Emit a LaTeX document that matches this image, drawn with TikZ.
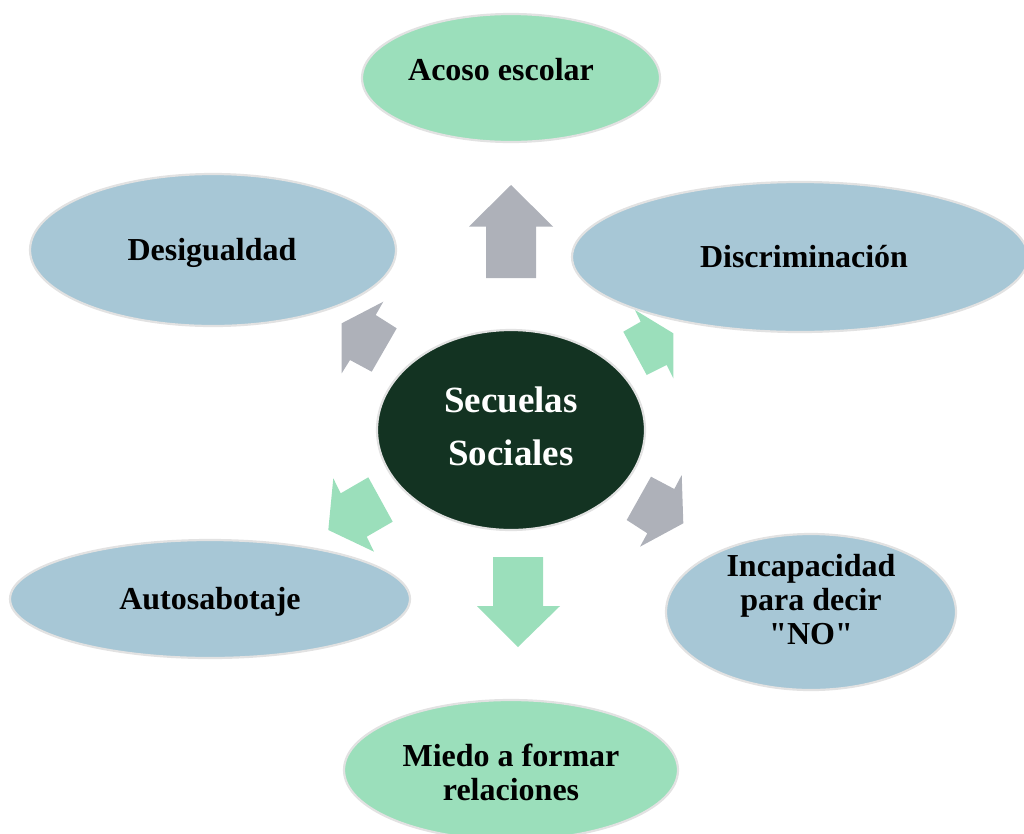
\documentclass[tikz,border=0pt]{standalone}
\usepackage{fontspec}
\setmainfont{Liberation Serif}[Ligatures=TeXReset]
\usetikzlibrary{shapes.geometric}
\definecolor{leaf}{HTML}{9BDFBB}
\definecolor{sky}{HTML}{A7C7D6}
\definecolor{stone}{HTML}{AEB1B9}
\definecolor{forest}{HTML}{133322}
\definecolor{rim}{HTML}{E2E2E2}
\tikzset{
  blob/.style={ellipse, draw=rim, line width=2.2pt, inner sep=0pt},
  lbl/.style={font=\fontsize{32}{34}\selectfont\bfseries, align=center, text=black, inner sep=0pt},
  biglbl/.style={font=\fontsize{37}{53}\selectfont\bfseries, align=center, text=white, inner sep=0pt},
  grayarrow/.style={fill=stone, draw=none},
  greenarrow/.style={fill=leaf, draw=none}
}
\begin{document}
\begin{tikzpicture}[x=1pt,y=-1pt]
\useasboundingbox (0,0) rectangle (1024,833);
% block arrows
\fill[grayarrow] (511,185) -- (553,226.5) -- (536,226.5) -- (536,278) -- (486,278) -- (486,226.5) -- (469,226.5) -- cycle;
\fill[greenarrow] (493,557) -- (543,557) -- (543,606) -- (560,606) -- (518,647) -- (477,606) -- (493,606) -- cycle;
\fill[grayarrow] (383.3,301.7) -- (375.7,315) -- (396.7,328.3) -- (371.7,371.7) -- (350,360) -- (341.7,373.3) -- (341.7,323.3) -- cycle;
\fill[greenarrow] (635,310) -- (640.7,321.7) -- (623.3,331.7) -- (646.7,375) -- (666.7,365) -- (673.3,378.3) -- (673.3,333.3) -- cycle;
\fill[greenarrow] (333.3,478.3) -- (340.7,493.3) -- (368.3,477.3) -- (392.7,521.7) -- (366.7,536.7) -- (374,551.7) -- (328.3,530) -- cycle;
\fill[grayarrow] (651,476.7) -- (674.3,489) -- (681.7,475) -- (683.3,523.3) -- (640,546.7) -- (647.3,533.3) -- (626.7,520) -- cycle;
% ellipses
\node[blob, fill=leaf, minimum width=298pt, minimum height=128pt] (acoso) at (511,78) {};
\node[blob, fill=sky, minimum width=366pt, minimum height=152pt] (desig) at (213,250) {};
\node[blob, fill=sky, minimum width=456pt, minimum height=150pt] (discr) at (800,257) {};
\node[blob, fill=forest, minimum width=268pt, minimum height=200pt] (centro) at (511,430) {};
\node[blob, fill=sky, minimum width=290pt, minimum height=156pt] (incap) at (811,612) {};
\node[blob, fill=sky, minimum width=400pt, minimum height=118pt] (auto) at (210,599) {};
\node[blob, fill=leaf, minimum width=334pt, minimum height=140pt] (miedo) at (511,770) {};
% texts
\node[lbl] (tacoso) at (501,70) {Acoso escolar};
\node[lbl] (tdesig) at (212,253) {Desigualdad};
\node[lbl] (tdiscr) at (804,257) {Discriminación};
\node[biglbl] (tcentro) at (511,426) {Secuelas\\Sociales};
\node[lbl] (tincap) at (811,600) {Incapacidad\\para decir\\"NO"};
\node[lbl] (tauto) at (210,602) {Autosabotaje};
\node[lbl] (tmiedo) at (511,772) {Miedo a formar\\relaciones};
\end{tikzpicture}
\end{document}
